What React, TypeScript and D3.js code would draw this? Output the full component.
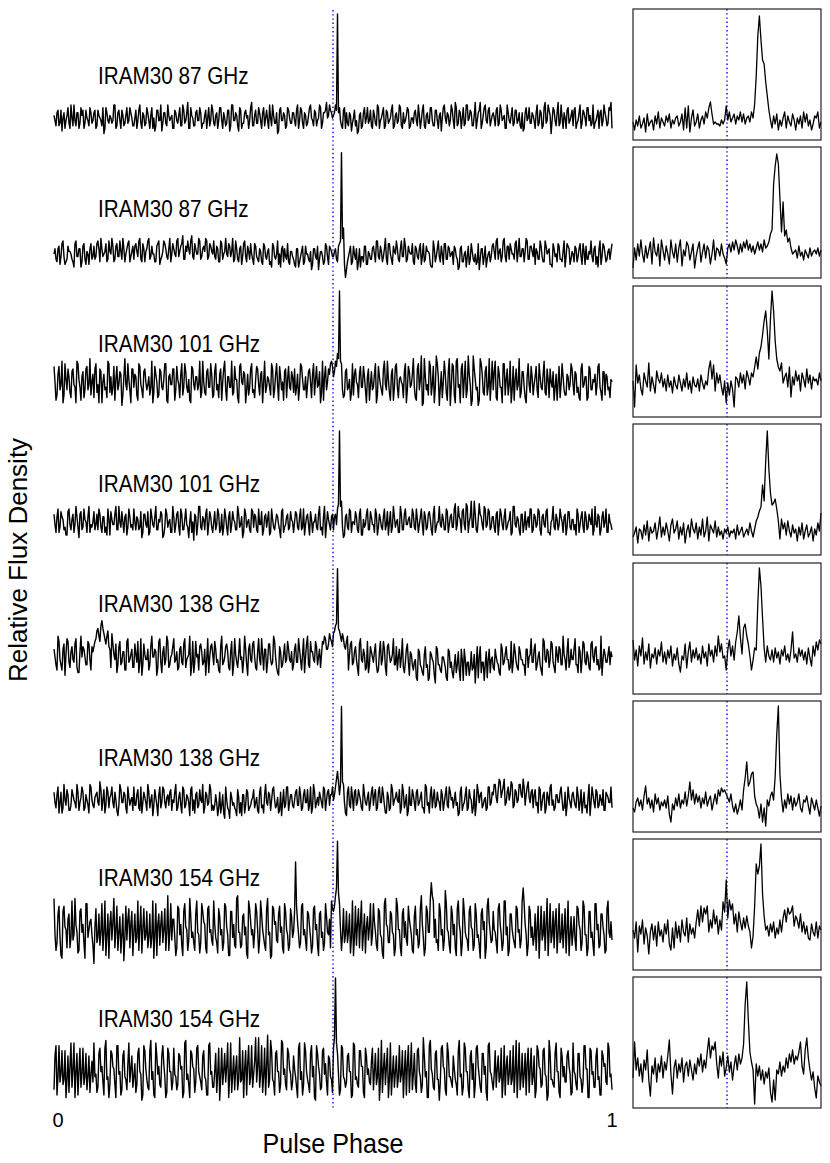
import React from "react";
import * as d3 from "d3";

// ---------- DATA (levels, one character per sample) ----------
// alphabet index = level; main traces: 14 = baseline, insets: 0..61 across the box
// main traces: "Even" holds samples 0,2,4,... and "Odd" holds samples 1,3,5,...
const ALPHABET = "0123456789abcdefghijklmnopqrstuvwxyzABCDEFGHIJKLMNOPQRSTUVWXYZ";

const panelLabels = [
  "IRAM30 87 GHz",
  "IRAM30 87 GHz",
  "IRAM30 101 GHz",
  "IRAM30 101 GHz",
  "IRAM30 138 GHz",
  "IRAM30 138 GHz",
  "IRAM30 154 GHz",
  "IRAM30 154 GHz",
];

const phaseTicks = [0, 1];
const insetPhaseRange = [0.47, 0.53];
const markerPhase = 0.5;

const main87aEven =
  "fbhc9gdiaejbgcfahdic" + "gaheb8idfcjagdhbfcie" + "bhdjafcgaiebhd9gcjdf" + "agcibhdkafbgdiachebj" +
  "cfaidgbh9jdgbiachfdk" + "bhcgaiedjbfc8hdgaiec" + "gbjdhafciebgdjaghejg" + "fjSibhacg9eb8fagcidb" +
  "hcjaeibgdhafcjbgdiae" + "chbfdjagcibhdf9iegbj" + "dkbhaicjegbkdhafjcid" + "gbicheajdfbhcga9gdic" +
  "fajcgbkdh8idgbjaehcf" + "bicgaheidbjcfahdgbik";
const main87aOdd =
  "dgbheafcjbdgaihcebgd" + "hbfdiagcedjbhafcidgb" + "eahcgbidfa9hdjcgbfea" + "hdfbjcgaiebhdgcfaidh" +
  "bgdiaechbjdf9hcgeaib" + "fcidgbhaejcg9idfbhcg" + "dhaicgbfjdhbeicgkfhe" + "ghgdaigbfchd9gbiecha" +
  "fbidgahcejbgdiacfhbe" + "gdjahbfcidbhagejcfdh" + "aicgebjdhbfagkcidhbf" + "ehbjdfagcichdbgaiecg" +
  "dgbhaicjfdhbkcegaidh" + "hadjcgbifcadhgbjecha";

const main87bEven =
  "ecgaidbhfc9jdgbiaegc" + "hdjbgeicfkbhdjcgeibf" + "cidkbgfjchebiadjgcke" + "gdkfichjelcgejdhkcif" +
  "jcgbiekdhfbjcgaidhce" + "ahcgbidfa9hcjegbdiaf" + "c9gbfaheb8gdhcfaidhf" + "dgbiRo5bfahc8gdbhaec" +
  "hbjcfdkaichegbjdhcfe" + "bhdgaicfe9jbgdhaicge" + "agc9hbfdaiceb8gahcfd" + "ickfbjdhcgeibkdgfjch" +
  "dafchbjegaidbhcf9igc" + "ehbgdiacfjbhdgaiecgf";
const main87bOdd =
  "gbhdjacfebidg9hcfaid" + "cigkdfbjehcidfkbgjdh" + "hfjcibgkdebhjcfidgbi" + "ejdhlcfgjdiekcgfjdhe" +
  "dhbjcfeidkcgbhdjbfic" + "idbfahcgbidea9hgcbfd" + "ag9dhbecfagc8fdbhagd" + "fchjka8dhbegb9dhafcg" +
  "ejdhbgcieafjcgdkbhei" + "agcidbhfa9gdjbeichdf" + "hd8gbe9hcfbaicgd9ebh" + "fjcgdkbhiecjfdgbkchf" +
  "igcjdbhfa9geicbjdhaf" + "bgdiafhcedga9jdhbfci";

const main101aEven =
  "k7hbm9fjaid6lcg8jbne" + "8ldj6hcma9kfbi5gdlbj" + "cg7kbied9mah8jcfl6hd" + "jbf8lcia7kdgbmae9jch" +
  "9ldh7jbgcmaf8kei6hcl" + "bfj9ieagcl8hdkb7jfci" + "a9hckbgdj8lfcia7kehm" + "gmpNl8ibfa9jdhckbg7i" +
  "cl9gbjdmah7kcfe8lbid" + "n8jbo6gdm9kcl5ieh7nc" + "k6ndj8mbh5ofc7lai9ne" + "bm7hcl9jd6kfbnai8gdk" +
  "9gblchaj8eic7kdg9hbl" + "dia8jcg7kbfhdlai9gcf";
const main101aOdd =
  "e9kd6lbg8jcmf7ibkd9h" + "ja6ieb8lgc7kdh9nbf6j" + "h9ld8jbgc6ke9ibl7gdj" + "7kdh9lcf6jbgd8maicl8" +
  "ib8jem7gc9kf6ldhb9ja" + "8kdh6mcf9jbl7gei8kbg" + "jc7lfb8ieh9kd6mgbjlk" + "iknmb9jc7lhe8kcg6jdb" +
  "h6kd9mbf7jcl8gdi6kch" + "c7lf5nb9kd6ogc8mai5l" + "9mc6lf8od7jb5nh9kc7m" + "i8kc6lf9mb7jd8ic6lag" +
  "dk8gbm9fjc7he8lb9gdj" + "9hc7ldg8jbe9kc7ihb8e";

const main101bEven =
  "hajcgb9idfakchbjegac" + "idbhagcj9fdkbeiahcgd" + "jbfc8hdiagckbeh9jcfa" + "gdi9hbjcea7gdkbfh9ic" +
  "ebjahcg9idfbkcgahebj" + "cgadibhf9jcegbiadhcf" + "aicgbjdh9fehbkcg8idg" + "bhjNm8gcjaeibh9fdjbg" +
  "dj9hcgbieakcfahbjdgc" + "hbfdj9gcibhaekcfbidh" + "cldgajbkemchalgbjdic" + "gaidhbjcf9kdgbhaiecj" +
  "bgdi9hcjaekbfdgahcib" + "fdjagcibhd9kcgbieahd";
const main101bOdd =
  "dgaifc9jbhdg8icfakde" + "bhjcga9fidhbkceg9jcb" + "egbiahc9jdgbfi8cheak" + "ahcjbfd8ieh9kcgbjdga" +
  "idhb9jcgaiebhd8jcfai" + "hbjd9gciafbhd8jcgbie" + "ehbjc9gdiaechb9kdfbh" + "gdlkc9hbiedgaj9chbid" +
  "ahcfbjd9icgeakbhdfcj" + "cjagdibhf9kcedhbjagc" + "jbkfidlagcmbfhdkcjbg" + "ch9jdgbeiakcf9hdbgja" +
  "hcjbgdia9fchbjeg9icf" + "b9hdiagcfjbdh9gcjaeb";

const main138aEven =
  "hbmd9jfkaicl8gehbkdi" + "ilpksnjohnfjbkcg9ldh" + "afkc7jdhbmegal8idkbf" + "ld9hcjaemb8kfigc7lej" +
  "bhd8mcig9kbfaledh7jc" + "kagdl9hcjbme8iafckdg" + "bjch9lemagdkbhfjlhnk" + "nqMoklhmfkciajdh9kbg" +
  "cj8gbkaifdlb9heacj7f" + "9d5ga7ib6fc4hb8ea5gc" + "6fb9h5dc7ga4ie8cb6hd" + "ahc8jbfd9kcgaidb7hel" +
  "cjbg9ldhakc8fibmdgah" + "dlbi8kcgajehb9mdfcig";
const main138aOdd =
  "e9kbh7lcgdja8miebj9g" + "komqplmiajd8ibg9kcfa" + "jc8lbfd9ieh7kcgbmaei" + "cgaibldf7kce9jbhd8if" +
  "kc9ibejag7lcfd8mbhdj" + "e9lbfh8jdcka7gbjdhc9" + "hcldf8jbkgcieakmhjli" + "orpmnik9jbgd7lcfa8ie" +
  "gb9kdh7jcfbieal8hcgb" + "c6hb8fa5gd7ib9ec6ha8" + "b8g5dh7ca9fb6ic5gd8e" + "9eb7hcida8jc9gdbhafc" +
  "h9eb7kcgdjaichbf9lcd" + "hb8gdjbe9kcida7hcfbe";

const main138bEven =
  "hbjd9kcgaiebhdjagcke" + "bgdlaichfjbe8kdhbjcf" + "jcia9hdkbgcf8jdibgha" + "dkbh9icf8jegbid9hcka" +
  "ag8hc9jb7fdai98gchbe" + "idahb9kcgejbfa8icjdg" + "bhcjagdic9kbfhdjahcg" + "ejpgOk9hcjaidgbkdfah" +
  "cibjdg9hakcfeibhd8jc" + "gaidhbkc9jfbhdiagcje" + "bhd9jcgaieb8kdhcfbjd" + "gkdmfjchelbidkgmcjfh" +
  "bidjag9hckebgdjahcfb" + "hcjaidb9kdgbhceiagdj";
const main138bOdd =
  "dg9hbeiacgdkafhbe9jc" + "fhcie9jbgdhacidg9fea" + "cgbjdfahe8icgbjdfcie" + "hafcjbgdia9hcekbgdic" +
  "cdb9g7eahcb8fdg9iacf" + "bf9jcgdhaiec9hdbjagc" + "eicgbidajbhdcfbieigj" + "gmlkld8jbfhcieagchdj" +
  "gahdjc9fbiehd9kbgaci" + "dhcfb9jdgbiceagdjbhf" + "ec8hadjbf9ichgbeajch" + "kfilhmdjgkchekfjgldi" +
  "gc9idhbfjcagdheb8jdg" + "ebgd9hcf8jdibgcahfdb";

const main154aEven =
  "p5ja2mdh6obf4kc8nagb" + "0la7nc3jf9pd5ib1mh6k" + "c8oe4lb6ja2nf7kd5qc9" + "h3mb7ke5pa8jc4ng6lc9" +
  "oa4id8mb3kf6qc7je2lb" + "6nd9ja5pc3lg8me4kb7i" + "cDg6mb9ke4ld7ja5ncho" + "kqLn5lb8ja3mf6oc4ie7" +
  "nc5ka2pe8jb6md3lg7hb" + "4md8qa6kcvoh9nb5sd7m" + "b6lf3pc9ke5na7jd2mg8" + "kc4nb8oe5ja6ld9tf3ma" +
  "7je2mb5pc8kg4na6ld3i" + "c9mf5ob3ka7nd6je4lcg";
const main154aOdd =
  "b8m3ke6ja9pc5lf2ndh7" + "e8jc5ob2kg6mc4ja9lf3" + "ja5md9ka6ob3jf8lc5nh" + "a6lf3nd9ic5ob8kf4md7" +
  "f8lb5ne3ka7pc6ib4ogd" + "ck4od7lb2mf9jc6nd5la" + "kmb8nd5ja7mf3kc8ib6l" + "mtrdb8kc4oa7lg5je9nb" +
  "g7lb4nf8kc3pd6ja9me5" + "ib6lf3mcpqa85kd9nc4j" + "f3oc8ka5md7jb2lg6pc9" + "d8lf5ob3jd8mc6onb7ke" +
  "a5mc9kf3nb6lc8jd4ob7" + "i5ld8mb6kc3nf7jb5oa9";

const main154bEven =
  "6nb9la3jf7od4mc8kb5h" + "oc7mf4pb8ke3nd6lag9j" + "b5kd2ne7la4oc8jg3md6" + "mb8jf5pc3ke9nb6la4od" +
  "7kc2md9ob5je6qa3lg8n" + "cqf7nb4ral9kd5pc8me6" + "jb3od8la5nf2kc7mg4ia" + "mNk4nb7jd3oa8lf5mc9h" +
  "6kb2pe8ma4jd7nc3lg5o" + "c8ld5qb3ne7ka2mf6ob9" + "ja4pc7md3lg8nb5kf2oc" + "6le9ma4jc8nd3ob7kg5m" +
  "b3nf7lc2pa8kd5mb9jf4" + "oc6ka9ne3ld7mb4jg8mc";
const main154bOdd =
  "j4nc8la5oe3kd7mb6jc9" + "b5kd9ma3lf8nc4jb6oe7" + "g8mc4la6pd3jf7nb5kd9" + "c6ke3oa8lf5md9jb4nc7" +
  "d5mb8kf3oc6ja9le4nb7" + "h9qc5mf7pa4ld8oe6kc9" + "e7ma4od8kb3nf6lc9jb5" + "qoc6ma9kd4nb7lf3je8m" +
  "d8ma5kf3oc7jb9ld4ne6" + "k5mb8jd3pc6la9ne4kb7" + "e8lb4od6ja3mf7kc5nd9" + "c7jb3nf8la5pd6kc4me8" +
  "j6le8mb4ka7od3jf9lc5" + "d8kb5ne3mc7ja4lf9ob6";

const inset87a =
  "7385a4692b5783a6c497" + "5a7b4869a57b3e4f29d5" + "7b48a6c9ehb67665868f" +
  "8c79b6a8c7b69a7c9guO" + "YMCArkd84a6b3859c4a7" + "5b8396a4c7b5836a9c47";
const inset87b =
  "3d7f9ha6e8cg5ib9f4hc" + "7ea5hb8f6dh4c9ge7bf3" + "9dg6bf8ec5ah7dc9fa85" +
  "dfbgcheafbgdhcfbeadg" + "cfbhdegkmJSYTClAjmgi" + "dabc8e9b7ca8d9bcad9c";
const inset101a =
  "g3ofjc9kgdpbiealhfkd" + "hbjdgaiecjfbhdkcgaie" + "dhbjfcgemqhobkfjd9g5" +
  "f9gc3ihdkfjcliekinsm" + "uxDKPFrLZPArnlpfikdn" + "8ielgjbkhdmfjcighekg";
const inset101b =
  "79c4ba6d8f5c9ae6bh7c" + "8ea5dg9bf6c8e4ad7gb9" + "e6c8g7ah5db9f7c8a6b9" +
  "c7a9b6d8ac79b8ea7bfh" + "kmxpJYFtnoqlf6gbe8fa" + "7d9b5c8e6ad79c5b8eaj";
const inset138a =
  "pfkcmhqdjfnbigldkhoe" + "jdkgmcifld9hfnbjoekg" + "lfidmgjcnhkemhrjngha" +
  "kphmfotBqivxrnhaflkH" + "ZQAlemhfkelgjdkhmfie" + "ktgielhkfjdlgcmhokpn";
const inset138b =
  "a8dfbe9glcfae8hcf9db" + "eag73c9fbhaecibgnejc" + "hdgafcibeg9dhcjgkijh" +
  "fdhb8c7ae9jpxlnrsgca" + "5c3a1ebgieqLZrf8eahc" + "g9fbdha8edgb7fc9ea6b";
const inset154a =
  "iem7kgnbjf6hldkamfic" + "lgnb8j9mekcnhfoclgje" + "mskumtquhnjslpgniwrH" +
  "oxsvlqhrmiojpkh9fuPK" + "OZApikflhmejgnhosmtq" + "rukpnjqhmgkedlhfmeki";
const inset154b =
  "dvhnekbmhrc4jfnbkgod" + "lhowf5imdkgnbjlemhck" + "fnjpgmiqxntrvkdojqei" +
  "oglcjohpknuOZGqlh0ke" + "jchagdi61c2hflejgnip" + "lrkomqvjfrxnhcg83eb9";

const mainEven = [main87aEven, main87bEven, main101aEven, main101bEven, main138aEven, main138bEven, main154aEven, main154bEven];
const mainOdd = [main87aOdd, main87bOdd, main101aOdd, main101bOdd, main138aOdd, main138bOdd, main154aOdd, main154bOdd];
const insetTraces = [inset87a, inset87b, inset101a, inset101b, inset138a, inset138b, inset154a, inset154b];

// ---------- LAYOUT ----------
const W = 830;
const H = 1163;
const baselines = [118, 254, 382, 522, 657, 800, 927, 1069];
const labelBaselines = [84, 217, 352, 492, 612, 766, 886, 1027];
const insetTops = [9, 147, 286, 424, 563, 701, 839, 977];
const INSET_LEFT = 633;
const INSET_W = 188;
const INSET_H = 131;
const LEVEL_PX = 2.6;

const decode = (s: string): number[] => Array.from(s).map((c) => ALPHABET.indexOf(c));
const interleave = (a: number[], b: number[]): number[] => {
  const out: number[] = [];
  const n = Math.max(a.length, b.length);
  for (let i = 0; i < n; i++) {
    if (i < a.length) out.push(a[i]);
    if (i < b.length) out.push(b[i]);
  }
  return out;
};

const mainX = d3.scaleLinear().domain([0, 1]).range([54, 612]);
const insetX = d3.scaleLinear().domain(insetPhaseRange).range([INSET_LEFT, INSET_LEFT + INSET_W]);

function mainPath(levels: number[], base: number): string {
  const y = d3.scaleLinear().domain([14, 61]).range([base, base - 47 * LEVEL_PX]);
  const n = levels.length - 1;
  return (
    d3
      .line<number>()
      .x((_, i) => mainX(i / n))
      .y((d) => y(d))(levels) || ""
  );
}

function insetPath(levels: number[], top: number): string {
  const y = d3.scaleLinear().domain([0, 61]).range([top + 127, top + 5]);
  const n = levels.length - 1;
  const ph = (i: number) => insetPhaseRange[0] + ((insetPhaseRange[1] - insetPhaseRange[0]) * i) / n;
  return (
    d3
      .line<number>()
      .x((_, i) => insetX(ph(i)))
      .y((d) => y(d))(levels) || ""
  );
}

const FONT = "'Liberation Sans', Arial, sans-serif";

export default function App() {
  const mx = mainX(markerPhase);
  const ix = insetX(markerPhase);
  return (
    <svg
      width={W}
      height={H}
      viewBox={`0 0 ${W} ${H}`}
      style={{ position: "absolute", left: 0, top: 0, background: "#fff" }}
    >
      <rect x={0} y={0} width={W} height={H} fill="#fff" />
      {/* main marker line */}
      <line x1={mx} x2={mx} y1={10} y2={1110} stroke="#0000ff" strokeWidth={1.4} strokeDasharray="1.4,2.8" />
      {mainEven.map((s, k) => (
        <g key={"m" + k}>
          <path
            d={mainPath(interleave(decode(s), decode(mainOdd[k])), baselines[k])}
            fill="none"
            stroke="#000"
            strokeWidth={1.4}
            strokeLinejoin="round"
          />
          <text
            transform={`translate(98,${labelBaselines[k]}) scale(0.9,1)`}
            fontFamily={FONT}
            fontSize={23}
            fill="#000"
          >
            {panelLabels[k]}
          </text>
        </g>
      ))}
      {insetTraces.map((s, k) => {
        const top = insetTops[k];
        return (
          <g key={"i" + k}>
            <line x1={ix} x2={ix} y1={top} y2={top + INSET_H} stroke="#0000ff" strokeWidth={1.4} strokeDasharray="1.4,2.8" />
            <path d={insetPath(decode(s), top)} fill="none" stroke="#000" strokeWidth={1.3} strokeLinejoin="round" />
            <rect x={INSET_LEFT} y={top} width={INSET_W} height={INSET_H} fill="none" stroke="#222" strokeWidth={1.2} />
          </g>
        );
      })}
      {phaseTicks.map((t) => (
        <text
          key={"t" + t}
          x={mainX(t) + (t === 0 ? 4 : 0)}
          y={1127}
          textAnchor="middle"
          fontFamily={FONT}
          fontSize={20}
          fill="#000"
        >
          {t}
        </text>
      ))}
      <text
        transform={`translate(333,1153) scale(0.93,1)`}
        textAnchor="middle"
        fontFamily={FONT}
        fontSize={27}
        fill="#000"
      >
        Pulse Phase
      </text>
      <text
        transform={`translate(27,560) rotate(-90)`}
        textAnchor="middle"
        fontFamily={FONT}
        fontSize={26}
        fill="#000"
      >
        Relative Flux Density
      </text>
    </svg>
  );
}
